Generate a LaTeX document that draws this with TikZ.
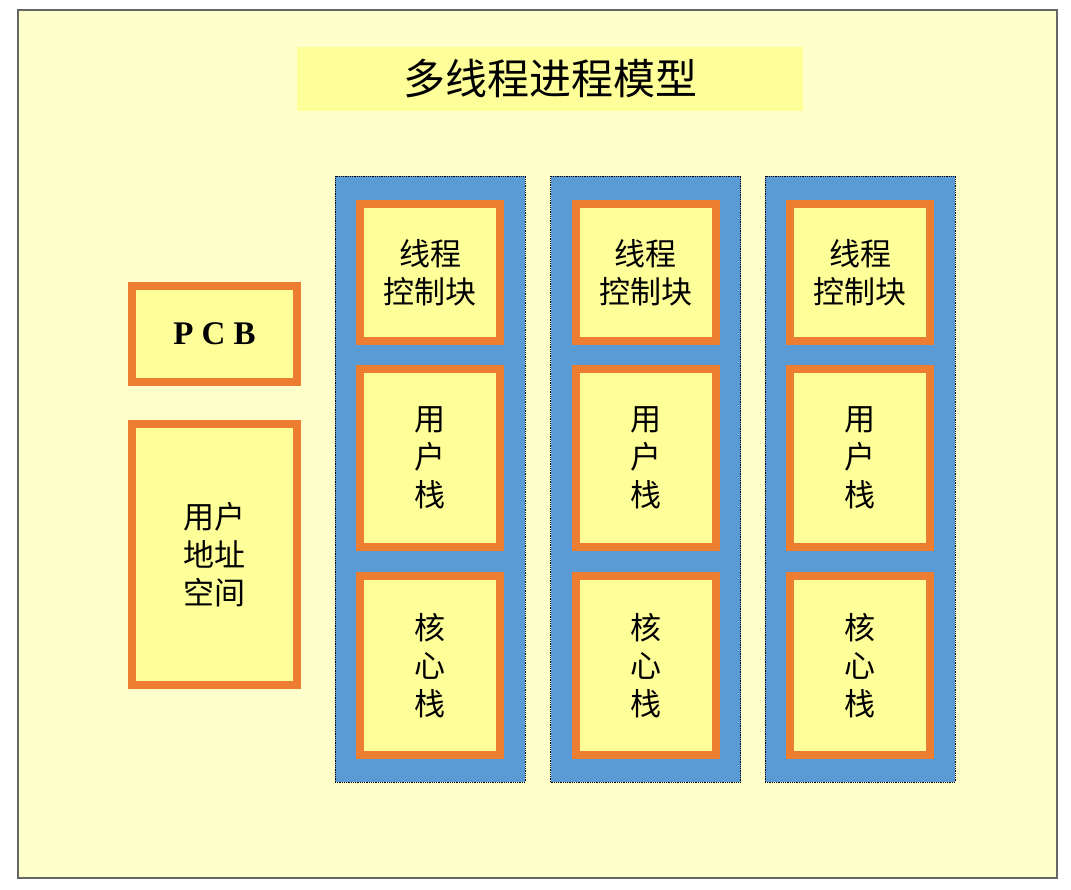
\documentclass[tikz,border=0pt]{standalone}
\usepackage{fontspec}
\newfontfamily\cjk{Noto Sans CJK SC}
\newfontfamily\pcbfont{Liberation Serif}
\usepackage{tikz}
\definecolor{pagebg}{HTML}{FFFFCC}
\definecolor{boxfill}{HTML}{FFFF99}
\definecolor{colblue}{HTML}{5B9BD5}
\definecolor{boxline}{HTML}{ED7D31}
\tikzstyle{frame} = [rectangle, draw=black!60, fill=pagebg, line width=1.5pt, inner sep=0pt]
\tikzstyle{title} = [rectangle, fill=boxfill, inner sep=0pt, minimum width=506, minimum height=64,
font=\cjk\fontsize{42}{50}\selectfont]
\tikzstyle{column} = [rectangle, draw=black, densely dotted, fill=colblue, line width=0.8pt,
inner sep=0pt, minimum width=190, minimum height=606]
\tikzstyle{block} = [rectangle, draw=boxline, fill=boxfill, line width=8pt, inner sep=0pt,
align=center, font=\cjk\fontsize{31}{38}\selectfont]

\begin{document}
\begin{tikzpicture}[x=1pt, y=-1pt]
			\useasboundingbox (0,0) rectangle (1071,889);
			\fill[white] (0,0) rectangle (1071,889);
			\draw[frame] (18,10) rectangle (1057,878);
			\node [title] (heading) at (550,79) {多线程进程模型};
			% process level
			\node [block, minimum width=165, minimum height=96] (pcb) at (214.5,334)
			{\pcbfont\bfseries\fontsize{33}{38}\selectfont P C B};
			\node [block, minimum width=165, minimum height=261] (addr) at (214.5,554.5)
			{用户\\地址\\空间};
			% threads
			\foreach \n/\x in {1/430, 2/645.5, 3/860} {
				\node [column] (col\n) at (\x,479) {};
				\node [block, minimum width=140, minimum height=137] (tcb\n) at (\x,272.5)
				{线程\\控制块};
				\node [block, minimum width=140, minimum height=178] (ustack\n) at (\x,458)
				{用\\户\\栈};
				\node [block, minimum width=140, minimum height=179] (kstack\n) at (\x,665.5)
				{核\\心\\栈};
			}
		\end{tikzpicture}
\end{document}
